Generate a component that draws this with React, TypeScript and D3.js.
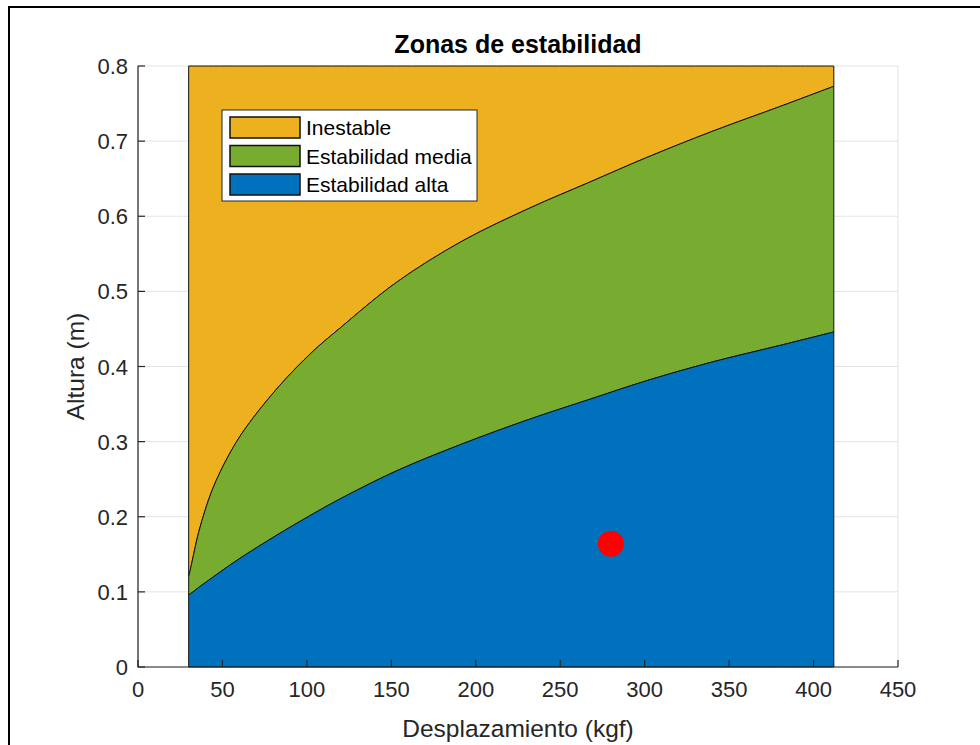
import React from 'react'
import * as d3 from 'd3'

// values
const desplazamiento = [30, 32, 36, 44, 54, 64, 84, 103, 119, 153, 192, 232, 267, 301, 340, 380, 412]
const limiteAlta = [0.096, 0.099, 0.106, 0.119, 0.135, 0.15, 0.178, 0.203, 0.223, 0.261, 0.297, 0.33, 0.356, 0.381, 0.406, 0.428, 0.446]
const limiteMedia = [0.12, 0.14, 0.18, 0.236, 0.283, 0.319, 0.375, 0.419, 0.45, 0.512, 0.567, 0.611, 0.645, 0.678, 0.713, 0.746, 0.773]
const alturaMax = 0.8
const punto = { x: 280, y: 0.164 }

const xTicks = [0, 50, 100, 150, 200, 250, 300, 350, 400, 450]
const yTicks = [0, 0.1, 0.2, 0.3, 0.4, 0.5, 0.6, 0.7, 0.8]

const zonas = ['Inestable', 'Estabilidad media', 'Estabilidad alta']
const colores = ['#EDB120', '#77AC30', '#0072BD']

const W = 980
const H = 745
const margin = { left: 138, right: 82, top: 66, bottom: 78 }
const axisColor = '#262626'
const font = '"Liberation Sans", Arial, sans-serif'

const App = () => {
  const x = d3.scaleLinear().domain([0, 450]).range([margin.left, W - margin.right])
  const y = d3.scaleLinear().domain([0, 0.8]).range([H - margin.bottom, margin.top])

  const rows = desplazamiento.map((d, i) => ({ d, alta: limiteAlta[i], media: limiteMedia[i] }))

  // each zone is a band between a lower and an upper boundary
  const band = (lo: (r: any) => number, hi: (r: any) => number) =>
    d3
      .area<any>()
      .x((r) => x(r.d))
      .y0((r) => y(lo(r)))
      .y1((r) => y(hi(r)))
      .curve(d3.curveCatmullRom.alpha(0.5))(rows) + 'Z'

  const paths = [
    band((r) => r.media, () => alturaMax),
    band((r) => r.alta, (r) => r.media),
    band(() => 0, (r) => r.alta),
  ]

  const [x0, x1] = x.range()
  const [yb, yt] = y.range()
  const tickLen = 7

  return (
    <div style={{ position: 'absolute', left: 0, top: 0 }}>
      <svg width={W} height={H} style={{ display: 'block', background: '#fff' }} fontFamily={font}>
        {/* frame of the screenshot */}
        <path d={`M9,${H} V7 H${W}`} fill="none" stroke="#000" strokeWidth={2} />

        {/* grid */}
        <g stroke="#e3e3e3" strokeWidth={1}>
          {xTicks.map((t) => (
            <line key={`gx${t}`} x1={x(t)} x2={x(t)} y1={yb} y2={yt} />
          ))}
          {yTicks.map((t) => (
            <line key={`gy${t}`} x1={x0} x2={x1} y1={y(t)} y2={y(t)} />
          ))}
        </g>

        {/* stability zones */}
        {paths.map((p, i) => (
          <path key={zonas[i]} d={p} fill={colores[i]} stroke="#111" strokeWidth={1} />
        ))}

        {/* measured point */}
        <circle cx={x(punto.x)} cy={y(punto.y)} r={13} fill="#FF0000" />

        {/* axes */}
        <g stroke={axisColor} strokeWidth={1.2} fill="none">
          <path d={`M${x0},${yt} V${yb} H${x1}`} />
          {xTicks.map((t) => (
            <line key={`tx${t}`} x1={x(t)} x2={x(t)} y1={yb} y2={yb - tickLen} />
          ))}
          {yTicks.map((t) => (
            <line key={`ty${t}`} x1={x0} x2={x0 + tickLen} y1={y(t)} y2={y(t)} />
          ))}
        </g>
        <g fill={axisColor} fontSize={22}>
          {xTicks.map((t) => (
            <text key={`lx${t}`} x={x(t)} y={yb + 30} textAnchor="middle">
              {t}
            </text>
          ))}
          {yTicks.map((t) => (
            <text key={`ly${t}`} x={x0 - 10} y={y(t) + 8} textAnchor="end">
              {t === 0 ? '0' : d3.format('.1f')(t)}
            </text>
          ))}
        </g>

        {/* labels */}
        <text x={(x0 + x1) / 2} y={53} textAnchor="middle" fontSize={25} fontWeight="bold" fill="#000">
          Zonas de estabilidad
        </text>
        <text x={(x0 + x1) / 2} y={737} textAnchor="middle" fontSize={24.5} fill={axisColor}>
          Desplazamiento (kgf)
        </text>
        <text
          transform={`translate(84 ${(yb + yt) / 2}) rotate(-90)`}
          textAnchor="middle"
          fontSize={24.5}
          fill={axisColor}
        >
          Altura (m)
        </text>

        {/* legend */}
        <g transform="translate(222 110)">
          <rect width={255} height={91} fill="#fff" stroke={axisColor} strokeWidth={1} />
          {zonas.map((z, i) => (
            <g key={z} transform={`translate(8 ${7 + i * 28.5})`}>
              <rect width={70} height={21} fill={colores[i]} stroke="#111" strokeWidth={1.5} />
              <text x={76} y={18} fontSize={21} fill="#000">
                {z}
              </text>
            </g>
          ))}
        </g>
      </svg>
    </div>
  )
}

export default App
